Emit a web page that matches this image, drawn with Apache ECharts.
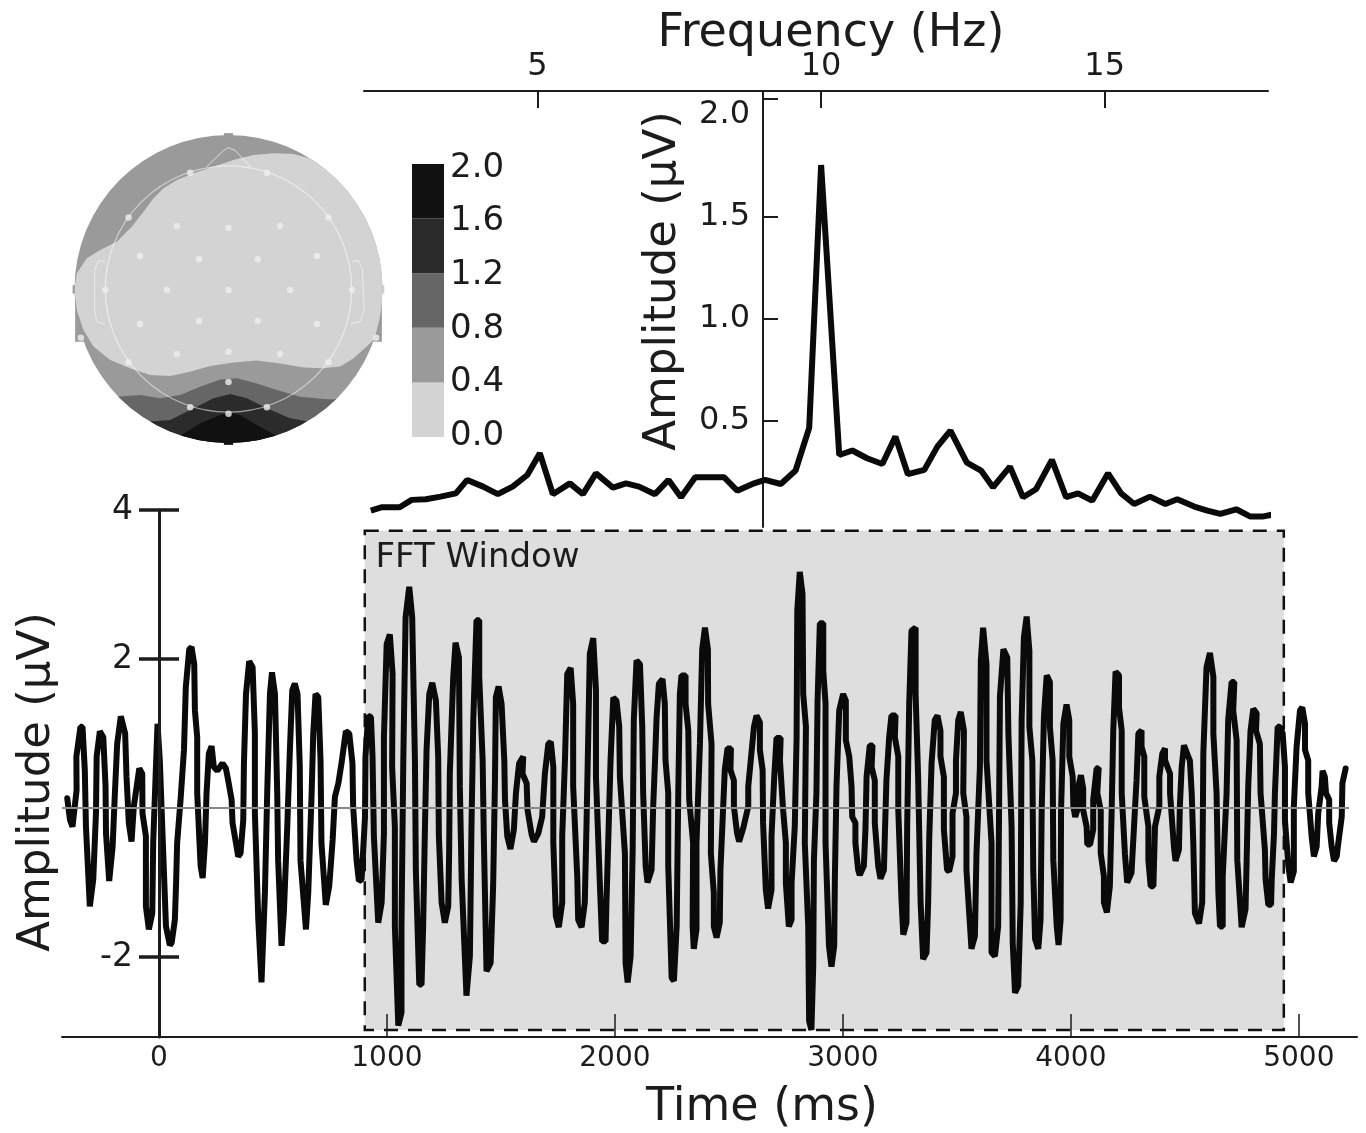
<!DOCTYPE html>
<html><head><meta charset="utf-8">
<style>html,body{margin:0;padding:0;background:#fff}#c{width:1366px;height:1133px}</style>
<script src="https://cdn.jsdelivr.net/npm/echarts@6/dist/echarts.min.js"></script>
</head><body><div id="c"></div>
<script>
// ---------- EEG time-domain trace: [time ms, amplitude µV] ----------
const waveA=[[-402,.13],[-390,-.16],[-379,-.25],[-361,.24],[-362,.69],[-344,1.09],[-335,1.09],[-325,.51],[-320,-.25],[-303,-1.32],[-288,-.96],[-276,-.07],[-273,.69],[-259,1.03],[-244,.95],[-234,.29],[-232,-.34],[-218,-.98],[-203,-.52],[-193,.2],[-183,.86],[-167,1.23],[-148,1],[-142,.42],[-132,-.2],[-120,-.45],[-110,.02],[-86,.53],[-73,.46],[-72,-.07],[-57,-.38],[-57,-1.32],[-44,-1.63],[-29,-1.41],[-25,-.47],[-13,.55],[-6,1.13],[4,.64],[19,-.61],[31,-1.59],[48,-1.84],[56,-1.81],[70,-1.5],[75,-1.05],[80,-.47],[95,.11],[110,.78],[118,1.62],[133,2.13],[143,2.16],[155,1.93],[158,1.31],[168,.95],[168,.2],[183,-.78],[192,-.94],[202,-.47],[209,.2],[219,.73],[231,.83],[241,.55],[256,.5],[279,.6],[294,.53],[304,.37],[319,.11],[323,-.2],[338,-.47],[348,-.65],[358,-.61],[370,-.16],[373,.6],[382,1.53],[396,1.97],[411,1.89],[421,1],[421,-.07],[436,-1.5],[450,-2.34],[465,-1.14],[475,.2],[487,1.53],[496,1.82],[509,1.53],[519,.2],[523,-.7],[538,-1.85],[548,-1.41],[563,-.25],[575,.82],[585,1.58],[596,1.67],[608,1.53],[618,.55],[621,-.7],[645,-1.63],[655,-1.14],[670,.2],[677,1],[687,1.53],[699,1.49],[709,.64],[713,-.47],[732,-1.3],[747,-1.05],[762,-.43],[772,.15],[787,.33],[801,.6],[820,1.03],[835,1],[849,.6],[852,.02],[867,-.7],[877,-.98],[889,-.96],[904,-.12],[906,.69]];
const waveB=[[918,1.24],[930,1.22],[937,.69],[943,-.38],[962,-1.54],[977,-1.27],[987,-.34],[987,.95],[999,2.2],[1013,2.33],[1025,1.8],[1023,.55],[1035,-.25],[1035,-1.59],[1050,-2.92],[1064,-2.75],[1064,-1.59],[1072,.64],[1082,2.56],[1098,2.97],[1111,2.56],[1123,.64],[1127,-.83],[1142,-2.37],[1152,-2.37],[1159,-1.59],[1167,-.25],[1174,.78],[1186,1.53],[1199,1.68],[1215,1.44],[1225,.69],[1228,-.38],[1240,-1.27],[1254,-1.54],[1269,-1.32],[1273,-.61],[1276,.46],[1291,1.76],[1301,2.22],[1316,2.02],[1320,.29],[1328,-.96],[1349,-2.52],[1364,-1.99],[1371,-.25],[1379,1.18],[1393,2.52],[1405,2.52],[1405,1.76],[1420,.64],[1425,-.38],[1437,-2.19],[1455,-2.08],[1466,-1.05],[1474,.37],[1478,1.49],[1490,1.63],[1503,1.4],[1515,.64],[1518,.11],[1528,-.38],[1542,-.55],[1557,-.29],[1566,.2],[1580,.6],[1598,.69],[1595,.46],[1613,.33],[1617,-.03],[1635,-.36],[1645,-.45],[1664,-.34],[1681,-.12],[1693,.46],[1708,.86],[1719,.89],[1730,.55],[1730,-.47],[1741,-1.45],[1754,-1.6],[1769,-1.27],[1769,-.38],[1781,.64],[1791,1.8],[1806,1.88],[1817,1.4],[1817,.29],[1835,-.92],[1839,-1.5],[1854,-1.6],[1868,-1.27],[1876,-.16],[1883,.95],[1890,2.07],[1905,2.28],[1917,1.58],[1917,.42],[1934,-1.01],[1944,-1.79],[1959,-1.79],[1963,-1.27],[1971,-.43],[1981,.64],[1993,1.48],[2007,1.44],[2019,1.09],[2022,.42],[2044,-.61],[2047,-2.08],[2056,-2.34],[2069,-1.99],[2078,-.56],[2083,1.18],[2095,1.98],[2110,1.93],[2120,1.09],[2124,.2],[2135,-.78],[2143,-1],[2161,-.83],[2168,.02],[2175,.55],[2183,1.22],[2193,1.67],[2209,1.73],[2219,1.4],[2222,.64],[2234,.2],[2234,-.78],[2249,-2.28],[2259,-2.32],[2271,-1.59],[2278,.2]];
const waveC=[[2285,1.53],[2292,1.78],[2310,1.78],[2310,1.4],[2322,1.04],[2326,.11],[2343,-.47],[2341,-1.59],[2346,-1.89],[2358,-1.63],[2358,-.47],[2373,.86],[2383,2.13],[2395,2.42],[2408,2.13],[2409,1.4],[2424,.86],[2421,-.61],[2434,-1.14],[2434,-1.59],[2446,-1.74],[2460,-1.54],[2463,-.83],[2472,-.2],[2482,.51],[2494,.8],[2509,.8],[2507,.51],[2522,.37],[2522,.02],[2536,-.34],[2545,-.45],[2563,-.27],[2585,.02],[2585,.29],[2596,.64],[2610,1.09],[2621,1.24],[2636,1.15],[2636,.78],[2648,.51],[2650,-.2],[2662,-1.1],[2672,-1.35],[2687,-1.1],[2687,-.38],[2699,.42],[2709,.94],[2727,.94],[2724,.64],[2738,-.03],[2750,-.47],[2750,-1.01],[2763,-1.59],[2775,-1.5],[2775,-1.01],[2789,-.25],[2797,.95],[2800,2.65],[2811,3.17],[2823,2.87],[2826,1.53],[2838,1.09],[2833,-.47],[2848,-1.59],[2852,-2.86],[2862,-2.98],[2870,-2.12],[2873,-.7],[2884,.2],[2889,1.44],[2899,2.48],[2914,2.48],[2914,1.84],[2924,1.4],[2924,-.47],[2939,-1.85],[2950,-2.13],[2962,-1.85],[2965,-.92],[2972,.29],[2984,1.31],[3001,1.53],[3013,1.44],[3013,.91],[3028,.69],[3038,.29],[3041,-.12],[3055,-.2],[3055,-.47],[3067,-.83],[3074,-.9],[3092,-.78],[3099,-.29],[3104,.42],[3118,.84],[3130,.84],[3126,.55],[3140,.37],[3140,-.2],[3155,-.78],[3165,-.95],[3180,-.83],[3184,-.38],[3191,.37],[3203,.95],[3213,1.24],[3231,1.24],[3228,.95],[3243,.69],[3243,-.03],[3257,-1.23],[3265,-1.7],[3279,-1.54],[3282,-.25],[3291,1.4],[3301,2.38],[3319,2.42],[3319,1.53],[3330,.42],[3341,-1.27],[3352,-2.03],[3367,-1.94],[3374,-1.27],[3379,-.38],[3389,.6],[3403,1.18],[3415,1.24],[3428,1.04],[3428,.69],[3443,.42],[3443,-.29],[3457,-.83],[3466,-.85],[3481,-.65],[3481,-.07],[3496,.2],[3496,.64],[3506,1.18],[3517,1.29],[3531,1.04],[3528,.2],[3542,-.12],[3542,-.83],[3564,-1.89],[3579,-1.72],[3586,-.61],[3601,.55],[3605,1.98],[3615,2.42],[3630,1.93],[3630,.64],[3652,-.47],[3652,-1.94],[3667,-1.99],[3681,-1.59]];
const waveD=[[3689,1.5],[3704,2.13],[3721,2.02],[3726,1],[3740,-.25],[3745,-1.81],[3755,-2.48],[3769,-2.39],[3780,-1.27],[3784,1.18],[3794,2.29],[3806,2.57],[3818,2.11],[3818,1.09],[3831,.64],[3835,-.83],[3843,-1.76],[3857,-1.89],[3867,-1.5],[3872,-.03],[3882,1.24],[3894,1.78],[3908,1.69],[3908,1.09],[3920,.64],[3923,-.7],[3938,-1.59],[3946,-1.84],[3955,-1.5],[3957,-.03],[3967,1.13],[3981,1.39],[3993,1.18],[3993,.69],[4008,.42],[4011,.02],[4019,-.12],[4033,.02],[4033,.29],[4044,.44],[4054,.26],[4054,-.03],[4069,-.25],[4072,-.49],[4084,-.49],[4098,-.29],[4098,.11],[4113,.53],[4122,.54],[4116,.2],[4131,-.03],[4131,-.61],[4145,-.92],[4145,-1.27],[4158,-1.4],[4171,-1.05],[4179,-.03],[4186,1.04],[4196,1.83],[4211,1.78],[4211,1.35],[4223,1.04],[4223,.2],[4237,-.61],[4247,-1],[4266,-.87],[4277,-.25],[4288,.37],[4296,1],[4310,1.04],[4310,.82],[4322,.69],[4322,.15],[4340,-.25],[4340,-.7],[4350,-1.05],[4362,-1.05],[4369,-.25],[4388,.02],[4388,.42],[4401,.73],[4413,.8],[4413,.64],[4435,.46],[4435,.2],[4452,-.52],[4459,-.71],[4474,-.56],[4478,.02],[4486,.55],[4496,.84],[4515,.69],[4522,.64],[4530,.2],[4537,-.47],[4544,-1.41],[4562,-1.55],[4576,-1.27],[4581,.73],[4595,1.89],[4610,2.08],[4625,1.76],[4625,1],[4639,.2],[4647,-1.14],[4654,-1.59],[4666,-1.59],[4666,-.92],[4683,.2],[4690,1.18],[4705,1.69],[4717,1.69],[4712,1.31],[4727,.91],[4730,-.7],[4745,-1.41],[4749,-1.6],[4766,-1.36],[4771,-.7],[4778,.29],[4788,1.04],[4800,1.33],[4815,1.27],[4812,1.04],[4829,.86],[4832,.2],[4851,-.56],[4854,-.96],[4866,-1.3],[4878,-1.3],[4881,-.96],[4891,-.34],[4895,.2],[4907,1.09],[4917,1.09],[4929,1],[4939,.55],[4939,-.16],[4954,-.78],[4964,-1],[4978,-.85],[4978,.02],[4990,.82],[5005,1.31],[5015,1.35],[5027,1.13],[5027,.78],[5041,.64],[5041,.2],[5056,-.38],[5066,-.65],[5078,-.52],[5085,-.07],[5100,.29],[5104,.5],[5114,.42],[5119,.2],[5133,.11],[5133,-.2],[5144,-.52],[5154,-.71],[5166,-.65],[5173,-.47],[5188,-.12],[5191,.33],[5205,.53]];

// ---------- Amplitude spectrum ----------
const freqHz=[2.06,2.26,2.57,2.78,3.03,3.29,3.56,3.76,4.04,4.3,4.56,4.82,5.04,5.27,5.57,5.8,6.03,6.33,6.56,6.79,7.07,7.31,7.53,7.78,8.04,8.29,8.52,8.79,9.01,9.29,9.55,9.79,10,10.32,10.55,10.81,11.08,11.31,11.53,11.82,12.05,12.28,12.57,12.82,13.03,13.33,13.56,13.79,14.07,14.32,14.53,14.78,15.06,15.29,15.52,15.8,16.07,16.28,16.58,16.81,17.04,17.32,17.57,17.78,18.06];
const specAmp=[.06,.077,.077,.113,.116,.129,.145,.211,.178,.141,.178,.235,.342,.141,.194,.141,.243,.173,.194,.178,.141,.211,.126,.224,.224,.224,.158,.191,.211,.191,.257,.466,1.755,.333,.355,.317,.289,.423,.239,.26,.374,.453,.296,.257,.175,.276,.126,.165,.309,.126,.145,.109,.243,.145,.093,.129,.093,.116,.08,.06,.044,.067,.031,.031,.047];

// ---------- Ticks ----------
const timeTicks=[0,1000,2000,3000,4000,5000];
const ampTicks=[-2,2,4];
const freqTicks=[5,10,15];
const specTicks=[0.5,1,1.5,2.08];
const specLabels=[0.5,1,1.5,2];
const fftWindowMs=[903,4934];
const fftWindowUv=[-2.98,3.72];
const fftLabel='FFT Window';

// ---------- Colour scale ----------
const scaleEdges=[0,0.4,0.8,1.2,1.6,2.0];
const scaleColors=['#d3d3d3','#9a9a9a','#666666','#2b2b2b','#111111'];

// ---------- Topographic map, head units (radius 1) ----------
const contour04=[[.66,.816],[.53,.848],[.422,.877],[.292,.881],[.162,.87],[.032,.838],[-.097,.794],[-.227,.751],[-.335,.708],[-.422,.654],[-.487,.589],[-.552,.502],[-.628,.405],[-.725,.307],[-.833,.253],[-.92,.199],[-.985,.102],[-1.002,-.006],[-.985,-.136],[-.942,-.266],[-.877,-.374],[-.768,-.461],[-.639,-.515],[-.509,-.558],[-.379,-.565],[-.249,-.537],[-.119,-.5],[.032,-.478],[.184,-.465],[.335,-.483],[.487,-.509],[.617,-.515],[.725,-.504],[.812,-.45],[.898,-.374],[.985,-.288],[1.071,-.266],[1.071,.816]];
const contour08=[[-.833,-.699],[-.725,-.699],[-.574,-.688],[-.444,-.71],[-.314,-.688],[-.184,-.634],[-.054,-.587],[.054,-.58],[.184,-.613],[.314,-.656],[.465,-.699],[.639,-.716],[.714,-.716],[.855,-.716],[.855,-1.13],[-.877,-1.13]];
const contour12=[[-.66,-.861],[-.509,-.861],[-.379,-.851],[-.227,-.775],[-.097,-.71],[.011,-.682],[.119,-.71],[.249,-.775],[.4,-.84],[.519,-.861],[.639,-.861],[.639,-1.13],[-.66,-1.13]];
const contour16=[[-.444,-.955],[-.314,-.955],[-.184,-.872],[-.054,-.818],[.011,-.803],[.076,-.818],[.184,-.883],[.314,-.955],[.444,-.955],[.444,-1.13],[-.444,-1.13]];
const sideLeft=[[-.996,.02],[-.996,-.342],[-.94,-.342],[-.97,-.1]];
const sideRight=[[.996,.02],[.996,-.342],[.94,-.342],[.97,-.1]];
const nubTop=[[-.03,.99],[-.03,1.012],[.03,1.012],[.03,.99]];
const nubLeft=[[-.99,.025],[-1.012,.025],[-1.012,-.03],[-.99,-.03]];
const nubBottom=[[-.03,-.99],[-.03,-1.012],[.03,-1.012],[.03,-.99]];
const noseLine=[[-.141,.795],[-.032,.9],[0,.918],[.043,.9],[.141,.795]];
const earLeft=[[-.801,.179],[-.844,.184],[-.87,.123],[-.87,-.136],[-.855,-.212],[-.801,-.227]];
const earRight=[[.801,.179],[.844,.184],[.87,.123],[.881,-.136],[.855,-.212],[.792,-.227]];
const electrodes=[[-.249,.755],[.249,.755],[-.649,.465],[.649,.465],[-.335,.409],[0,.398],[.335,.409],[-.574,.214],[-.19,.193],[.19,.193],[.574,.214],[-.801,-.006],[-.4,-.006],[0,-.006],[.4,-.006],[.801,-.006],[-.574,-.227],[-.19,-.206],[.19,-.206],[.574,-.227],[-.959,-.316],[.959,-.316],[-.335,-.422],[0,-.407],[.335,-.422],[-.649,-.476],[.649,-.476],[0,-.604],[-.249,-.768],[.249,-.768],[0,-.81]];
const headRingRadius=0.8;

const FONT='"DejaVu Sans"', INK='#1c1c1c';
const chart=echarts.init(document.getElementById('c'),null,{renderer:'canvas'});

function polyRender(points,fill,clipped){
  return function(p,api){
    const c=api.coord([0,0]), r=api.size([1,0])[0];
    const el={type:'polygon',shape:{points:points.map(q=>api.coord(q))},style:{fill:fill}};
    if(clipped) el.clipPath={type:'circle',shape:{cx:c[0],cy:c[1],r:r}};
    return el;
  };
}
function headPoly(points,fill,clipped,z){
  return {type:'custom',xAxisIndex:3,yAxisIndex:4,data:[[0,0]],clip:false,silent:true,z:z,
    renderItem:polyRender(points,fill,clipped)};
}
function headOutline(points){
  return {type:'line',xAxisIndex:3,yAxisIndex:4,data:points,showSymbol:false,clip:false,silent:true,z:6,
    lineStyle:{color:'rgba(255,255,255,.45)',width:1.2}};
}

const xHidden=(i,min,max)=>({gridIndex:i,type:'value',min:min,max:max,show:false});

const wave=waveA.concat(waveB,waveC,waveD);

const bandSeries=scaleColors.map((col,i)=>({
  type:'bar',xAxisIndex:2,yAxisIndex:3,stack:'scale',barWidth:'100%',silent:true,
  data:[scaleEdges[i+1]-scaleEdges[i]],itemStyle:{color:col}
}));

chart.setOption({
  animation:false,
  backgroundColor:'#ffffff',
  textStyle:{fontFamily:FONT,color:INK},
  grid:[
    {left:62,top:510,width:1295,height:527},
    {left:364,top:91,width:904,height:436},
    {left:412,top:164,width:32,height:273},
    {left:74.5,top:135,width:308,height:308},
    {left:412,top:168,width:32,height:268}
  ],
  xAxis:[
    {gridIndex:0,type:'value',z:6,min:-425,max:5255,splitLine:{show:false},
     axisLine:{onZero:false,lineStyle:{color:INK,width:2}},
     axisTick:{inside:true,length:23,lineStyle:{color:INK,width:1.5},customValues:timeTicks},
     axisLabel:{customValues:timeTicks,fontFamily:FONT,fontSize:28,color:INK,margin:8,formatter:v=>String(v)}},
    {gridIndex:1,type:'value',position:'top',min:1.94,max:17.88,splitLine:{show:false},
     axisLine:{onZero:false,lineStyle:{color:INK,width:2}},
     axisTick:{inside:true,length:17,lineStyle:{color:INK,width:2},customValues:freqTicks},
     axisLabel:{customValues:freqTicks,fontFamily:FONT,fontSize:32,color:INK,margin:8}},
    {gridIndex:2,type:'category',data:['scale'],show:false},
    xHidden(3,-1,1),
    xHidden(4,0,1)
  ],
  yAxis:[
    {gridIndex:0,type:'value',position:'left',z:6,min:-3.074,max:4,offset:-97,splitLine:{show:false},
     axisLine:{onZero:false,lineStyle:{color:INK,width:3}},
     axisTick:{length:20,lineStyle:{color:INK,width:3.5},customValues:ampTicks},
     axisLabel:{customValues:ampTicks,fontFamily:FONT,fontSize:33,color:INK,margin:26}},
    {gridIndex:0,type:'value',position:'left',z:6,min:-3.074,max:4,offset:-97,splitLine:{show:false},
     axisLine:{show:false},
     axisTick:{inside:true,length:20,lineStyle:{color:INK,width:3.5},customValues:ampTicks},
     axisLabel:{show:false}},
    {gridIndex:1,type:'value',position:'left',min:-0.02,max:2.118,offset:-399,splitLine:{show:false},
     axisLine:{onZero:false,lineStyle:{color:INK,width:2}},
     axisTick:{inside:true,length:15,lineStyle:{color:INK,width:2},customValues:specTicks},
     axisLabel:{customValues:specLabels,fontFamily:FONT,fontSize:32,color:INK,margin:13,
       formatter:v=>v.toFixed(1)}},
    {gridIndex:2,type:'value',position:'right',min:0,max:2,show:false},
    xHidden(3,-1,1),
    {gridIndex:4,type:'value',position:'right',min:0,max:2,splitLine:{show:false},
     axisLine:{show:false},axisTick:{show:false},
     axisLabel:{customValues:scaleEdges,fontFamily:FONT,fontSize:34,color:INK,margin:6,
       formatter:v=>v.toFixed(1)}}
  ],
  graphic:[
    {type:'text',x:831,y:34,style:{text:'Frequency (Hz)',font:'46px '+FONT,fill:INK,align:'center',verticalAlign:'middle'}},
    {type:'text',x:762,y:1108,style:{text:'Time (ms)',font:'46px '+FONT,fill:INK,align:'center',verticalAlign:'middle'}},
    {type:'text',x:37,y:782,rotation:Math.PI/2,style:{text:'Amplitude (μV)',font:'45px '+FONT,fill:INK,align:'center',verticalAlign:'middle'}},
    {type:'text',x:663,y:281,rotation:Math.PI/2,style:{text:'Amplitude (μV)',font:'45px '+FONT,fill:INK,align:'center',verticalAlign:'middle'}}
  ],
  series:[
    {type:'line',name:'EEG',xAxisIndex:0,yAxisIndex:0,data:wave,showSymbol:false,silent:true,z:3,
     lineStyle:{color:'#0a0a0a',width:6,join:'bevel',cap:'round'},
     markArea:{silent:true,z:1,itemStyle:{color:'#dedede',borderColor:'#111',borderWidth:2.5,borderType:[14,10]},
       label:{show:true,position:'insideTopLeft',formatter:fftLabel,fontFamily:FONT,fontSize:34,color:INK,distance:12},
       data:[[{coord:[fftWindowMs[0],fftWindowUv[1]]},{coord:[fftWindowMs[1],fftWindowUv[0]]}]]}},
    {type:'line',name:'zero',xAxisIndex:0,yAxisIndex:0,data:[[-425,0],[5220,0]],showSymbol:false,silent:true,z:4,
     lineStyle:{color:'#888888',width:2}},
    {type:'line',name:'spectrum',xAxisIndex:1,yAxisIndex:2,data:freqHz.map((f,i)=>[f,specAmp[i]]),
     showSymbol:false,silent:true,clip:false,z:3,lineStyle:{color:'#0a0a0a',width:6,join:'bevel'}},
  ].concat(bandSeries,[
    headPoly(sideLeft,scaleColors[1],false,1),
    headPoly(sideRight,scaleColors[1],false,1),
    headPoly(nubTop,scaleColors[1],false,1),
    headPoly(nubLeft,scaleColors[1],false,1),
    headPoly(nubLeft.map(q=>[-q[0],q[1]]),scaleColors[0],false,1),
    headPoly(nubBottom,scaleColors[4],false,1),
    {type:'custom',xAxisIndex:3,yAxisIndex:4,data:[[0,0]],clip:false,silent:true,z:2,
     renderItem:(p,api)=>{const c=api.coord([0,0]),r=api.size([1,0])[0];
       return {type:'circle',shape:{cx:c[0],cy:c[1],r:r},style:{fill:scaleColors[1]}};}},
    headPoly(contour04,scaleColors[0],true,3),
    headPoly(contour08,scaleColors[2],true,4),
    headPoly(contour12,scaleColors[3],true,4.5),
    headPoly(contour16,scaleColors[4],true,5),
    {type:'custom',xAxisIndex:3,yAxisIndex:4,data:[[0,0]],clip:false,silent:true,z:6,
     renderItem:(p,api)=>{const c=api.coord([0,0]),r=api.size([headRingRadius,0])[0];
       return {type:'circle',shape:{cx:c[0],cy:c[1],r:r},style:{fill:'none',stroke:'rgba(255,255,255,.55)',lineWidth:1.2}};}},
    headOutline(noseLine),headOutline(earLeft),headOutline(earRight),
    {type:'scatter',xAxisIndex:3,yAxisIndex:4,data:electrodes,symbolSize:6.5,silent:true,clip:false,z:7,
     itemStyle:{color:'#efefef'}}
  ])
});
</script></body></html>
